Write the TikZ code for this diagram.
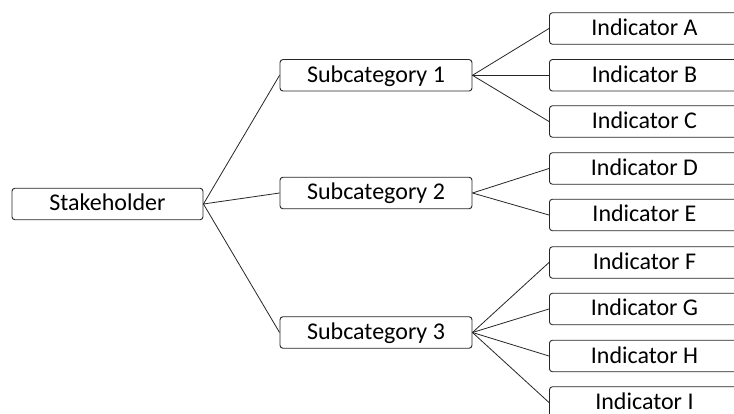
\documentclass[tikz,border=0pt]{standalone}
\usepackage{fontspec}
\setmainfont{Carlito}
\begin{document}
\begin{tikzpicture}[x=1pt,y=-1pt,
  box/.style={draw=black!85,line width=0.9pt,rounded corners=3pt,fill=white,
    minimum height=31.5pt,inner sep=0pt,font=\fontsize{24}{28}\selectfont,text height=18pt,text depth=4pt},
  stake/.style={box,minimum width=191pt},
  sub/.style={box,minimum width=192pt},
  link/.style={draw=black!85,line width=0.8pt}]
\useasboundingbox (0,0) rectangle (734,414);
\clip (0,0) rectangle (734,414);
\node[stake] (st) at (107.5,204) {Stakeholder};
\node[sub] (s1) at (376,75.3) {Subcategory 1};
\node[sub] (s2) at (376,193) {Subcategory 2};
\node[sub] (s3) at (376,332.5) {Subcategory 3};
\foreach \n/\y/\t in {a/28.5/A,b/75.3/B,c/121.5/C,d/168.5/D,e/215/E,f/262.5/F,g/309/G,h/356/H,i/402.5/I}{
  \node[box,minimum width=200pt,anchor=west] (i\n) at (549,\y) {\hspace*{-10pt}Indicator \t};
}
\draw[link] (st.east) -- (s1.west);
\draw[link] (st.east) -- (s2.west);
\draw[link] (st.east) -- (s3.west);
\foreach \n in {a,b,c}{\draw[link] (s1.east) -- (i\n.west);}
\foreach \n in {d,e}{\draw[link] (s2.east) -- (i\n.west);}
\foreach \n in {f,g,h,i}{\draw[link] (s3.east) -- (i\n.west);}
\end{tikzpicture}
\end{document}
